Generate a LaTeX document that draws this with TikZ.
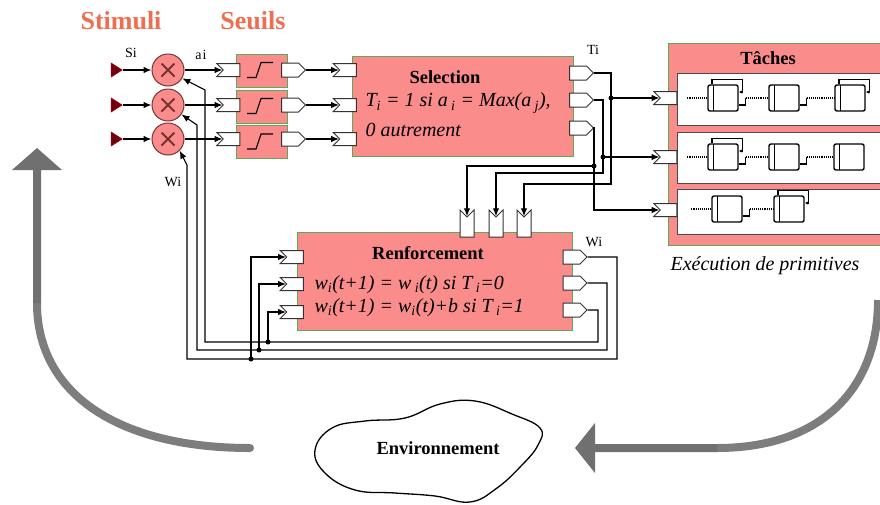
\documentclass[tikz,border=0pt]{standalone}
\usepackage{fontspec}
\setmainfont{Liberation Serif}
\usepackage{tikz}
\usetikzlibrary{arrows.meta, positioning, shapes.geometric, shapes.symbols, calc}
\definecolor{salmon}{RGB}{250,140,140}
\definecolor{titlecol}{RGB}{240,110,80}
\definecolor{boxedge}{RGB}{90,170,90}
\definecolor{multedge}{RGB}{120,50,50}
\definecolor{srcred}{RGB}{110,0,20}
\definecolor{curvegray}{RGB}{125,125,125}
\definecolor{shaftgray}{RGB}{112,112,112}

\begin{document}
\begin{tikzpicture}[
    x=1pt, y=-1pt,
    >={Latex[length=8pt,width=6.5pt]},
    wire/.style={line width=1.1pt},
    block/.style={draw=boxedge, line width=1pt, fill=salmon, inner sep=0pt},
    seuil/.style={block, minimum width=51pt, minimum height=33pt},
    mult/.style={circle, draw=multedge, line width=1pt, fill=salmon,
                 minimum size=32pt, inner sep=0pt,
                 path picture={
                   \draw[line width=2pt]
                     ($(path picture bounding box.center)+(-6.5,-6.5)$) --
                     ($(path picture bounding box.center)+(6.5,6.5)$)
                     ($(path picture bounding box.center)+(-6.5,6.5)$) --
                     ($(path picture bounding box.center)+(6.5,-6.5)$);}},
    src/.style={isosceles triangle, isosceles triangle stretches, fill=srcred,
                draw=red!70!black, line width=0.6pt,
                minimum width=14pt, minimum height=11pt, inner sep=0pt},
    inport/.style={signal, signal to=nowhere, signal from=west, draw=black!80,
                   line width=1pt, fill=white, minimum width=23pt,
                   minimum height=13pt, inner sep=0pt},
    outport/.style={signal, signal to=east, draw=black!80, line width=1pt,
                    fill=white, minimum width=24pt, minimum height=14pt,
                    inner sep=0pt},
    topport/.style={signal, signal to=nowhere, signal from=north, draw=black!80,
                    line width=1pt, fill=white, minimum width=14pt,
                    minimum height=20pt, inner sep=0pt},
    taskrow/.style={draw=black!70, line width=1pt, fill=white, inner sep=0pt},
    prim/.style={draw, line width=1.4pt, fill=white, rounded corners=2pt,
                 minimum width=30pt, minimum height=26pt, inner sep=0pt,
                 path picture={
                   \draw[line width=1pt]
                         ([xshift=5pt]path picture bounding box.north west) --
                         ([xshift=5pt]path picture bounding box.south west);}},
    loop/.style={line width=1.1pt, -{Latex[length=3.5pt,width=3.5pt]}},
    title/.style={font=\fontsize{26}{28}\selectfont\bfseries, text=titlecol},
    blocklabel/.style={font=\fontsize{18.5}{20}\selectfont\bfseries},
    formula/.style={font=\fontsize{20}{22}\selectfont\itshape, anchor=west},
    sig/.style={font=\fontsize{14}{16}\selectfont}
  ]
  \useasboundingbox (0,0) rectangle (880,504);

  % Big feedback arrows
  \coordinate (lstart) at (250,448);
  \coordinate (lbend) at (37,303);
  \draw[curvegray, line width=8pt, line cap=round]
    (lstart) .. controls (120,448) and (37,395) .. (lbend);
  \fill[shaftgray] (33,303) -- (33,170) -- (12,170) -- (37,148) -- (62,170)
    -- (41,170) -- (41,303) -- cycle;
  \coordinate (rstart) at (878,300);
  \coordinate (rbend) at (717,448);
  \draw[curvegray, line width=8pt]
    (rstart) .. controls (878,390) and (820,448) .. (rbend);
  \fill[shaftgray] (717,444) -- (595,444) -- (595,423) -- (575,448)
    -- (595,473) -- (595,452) -- (717,452) -- cycle;

  % Environment cloud
  \draw[line width=1.3pt, fill=white] plot[smooth cycle, tension=0.7] coordinates {
    (315,450) (332,428) (365,421) (405,418) (440,404) (475,401) (512,414)
    (540,428) (538,445) (522,465) (497,488) (470,502) (435,496) (395,493)
    (355,490) (325,473)};
  \node[blocklabel] (env) at (438,448) {Environnement};

  % Titles
  \node[title] (stimuli) at (121,21) {Stimuli};
  \node[title] (seuils) at (253,21) {Seuils};

  % Stimuli, multipliers and thresholds
  \foreach \i/\y/\ty in {1/70/70.5, 2/105/106.5, 3/139/142}{
    \node[src] (s\i) at (115,\y) {};
    \node[mult] (m\i) at (168,\y) {};
    \node[seuil] (t\i) at (262,\ty) {};
    \draw[line width=1.1pt] (247,\ty+7) -- (256,\ty+7) -- (261,\ty-8) -- (273,\ty-8);
    \node[inport] (sin\i) at (231.5,\y) {};
    \node[outport] (sout\i) at (290,\y) {};
  }

  % Selection block
  \node[block, minimum width=221pt, minimum height=100pt] (sel) at (462.5,106) {};
  \node[blocklabel] (sellabel) at (445,77) {Selection};
  \node[formula] (selrule) at (362,103)
    {T\textsubscript{i} = 1 si a\,\textsubscript{i} = Max(a\,\textsubscript{j}),};
  \node[formula] (selelse) at (362,130) {0 autrement};
  \foreach \i/\y in {1/70, 2/105, 3/139}
    \node[inport] (sein\i) at (348,\y) {};
  \foreach \i/\y in {1/73, 2/100, 3/128}
    \node[outport] (seout\i) at (578,\y) {};

  % Renforcement block
  \node[block, minimum width=275pt, minimum height=98pt] (renf) at (434.5,281) {};
  \node[blocklabel] (renflabel) at (428,253) {Renforcement};
  \node[formula] (rule0) at (311,285)
    {w\textsubscript{i}(t+1) = w\,\textsubscript{i}(t) si T\,\textsubscript{i}=0};
  \node[formula] (rule1) at (311,308)
    {w\textsubscript{i}(t+1) = w\textsubscript{i}(t)+b si T\,\textsubscript{i}=1};
  \foreach \i/\y in {1/257, 2/284, 3/312}
    \node[inport] (ri\i) at (295,\y) {};
  \foreach \i/\y in {1/257, 2/283, 3/310}
    \node[outport] (ro\i) at (571.5,\y) {};
  \foreach \i/\x in {1/467, 2/496, 3/524}
    \node[topport] (rt\i) at (\x,227) {};

  % Taches block
  \node[block, minimum width=227pt, minimum height=202pt] (taches) at (781.5,144) {};
  \node[blocklabel] (tacheslabel) at (768,58) {Tâches};
  \node[taskrow, minimum width=218pt, minimum height=52pt] (row1) at (786,99) {};
  \node[taskrow, minimum width=218pt, minimum height=51pt] (row2) at (786,157.5) {};
  \node[taskrow, minimum width=218pt, minimum height=45pt] (row3) at (786,211.5) {};
  \foreach \i/\y in {1/98, 2/157, 3/210}
    \node[inport] (tin\i) at (668.5,\y) {};
  \node[font=\fontsize{20}{22}\selectfont\itshape] (exec) at (765,266)
    {Exécution de primitives};

  % Primitives
  \node[prim] (p11) at (723,98) {};
  \node[prim] (p12) at (784,98) {};
  \node[prim] (p13) at (850,98) {};
  \node[prim] (p21) at (723,157) {};
  \node[prim] (p22) at (784,157) {};
  \node[prim] (p23) at (849,157) {};
  \node[prim] (p31) at (727,209) {};
  \node[prim] (p32) at (789,209) {};
  \foreach \p in {p11, p21, p31}
    \draw[line width=1.1pt, densely dotted] ($(\p.west)+(-20,0)$) -- (\p.west);
  \foreach \a/\b in {p11/p12, p12/p13, p21/p22, p22/p23, p31/p32}{
    \draw[line width=1.1pt] ([yshift=-7pt]\a.east) -- ++(7,0) -- ++(0,-7) coordinate (q);
    \draw[line width=1.1pt, densely dotted] (q) -- (\b.west);
  }
  \foreach \p in {p11, p13, p21, p32}
    \draw[loop] ([xshift=-11pt]\p.north) -- ++(0,-5) -| ([xshift=4pt,yshift=6pt]\p.east)
      -- ([yshift=6pt]\p.east);

  % Stimuli chain
  \foreach \i in {1,2,3}{
    \draw[wire, ->] (s\i.east) -- (m\i.west);
    \draw[wire, ->] (m\i.east) -- (sin\i.west);
    \draw[wire, ->] (sout\i.east) -- (sein\i.west);
  }

  % Selection outputs
  \coordinate (c1) at (611,184);
  \coordinate (c2) at (603,173);
  \coordinate (c3) at (594,210);
  \coordinate (b3) at (594,166);
  \draw[wire, ->] (seout1.east) -| (c1) -| (rt3.north);
  \draw[wire, ->] (seout2.east) -| (c2) -| (rt2.north);
  \draw[wire, ->] (seout3.east) -| (c3) -- (tin3.west);
  \draw[wire, ->] (b3) -| (rt1.north);
  \draw[wire, ->] (tin1.west -| c1) -- (tin1.west);
  \draw[wire, ->] (tin2.west -| c2) -- (tin2.west);
  \fill (tin1.west -| c1) circle (2.5);
  \fill (tin2.west -| c2) circle (2.5);
  \fill (b3) circle (2.5);

  % Renforcement feedback to multipliers
  \coordinate (f1) at (617,359);
  \coordinate (f2) at (607,350);
  \coordinate (f3) at (598,342);
  \coordinate (g1) at (187,165);
  \coordinate (g2) at (197,125);
  \coordinate (g3) at (205,90);
  \draw[wire, ->] (ro1.east) -| (f1) -| (g1) -- (m3.-45);
  \draw[wire, ->] (ro2.east) -| (f2) -| (g2) -- (m2.-35);
  \draw[wire, ->] (ro3.east) -| (f3) -| (g3) -- (m1.-30);
  \coordinate (d1) at (251,359);
  \coordinate (d2) at (259,350);
  \coordinate (d3) at (268,342);
  \foreach \i in {1,2,3}{
    \draw[wire, ->] (d\i) |- (ri\i.west);
    \fill (d\i) circle (2.5);
  }

  % Signal labels
  \node[sig] (lsi) at (131,53) {Si};
  \node[sig] (lai) at (201,55) {a{\kern1pt}i};
  \node[sig] (lti) at (593,50) {Ti};
  \node[sig] (lwi) at (173,182) {Wi};
  \node[sig] (lwr) at (594,242) {Wi};

\end{tikzpicture}
\end{document}
